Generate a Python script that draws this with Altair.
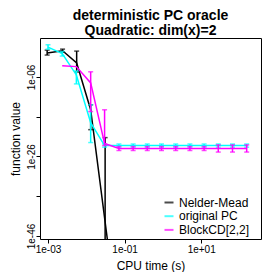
import altair as alt
import pandas as pd

SERIES = ["Nelder-Mead", "original PC", "BlockCD[2,2]"]
COLORS = ["#000000", "#00FFFF", "#FF00FF"]

# Nelder-Mead (black)
nm_time = [9.5e-4, 2.4e-3, 5.6e-3, 1.3e-2, 5.0e-2]
nm_value = [1.0e0, 4.0e0, 3.2e-3, 5.6e-15, 1.0e-58]
nm_err_time = [9.5e-4, 2.4e-3, 5.6e-3, 1.3e-2, 3.1e-2]
nm_err_lo = [3.2e-1, 1.8e0, 1.8e-5, 5.6e-20, 1.0e-60]
nm_err_hi = [5.6e0, 1.0e1, 3.2e0, 1.0e-13, 5.6e-22]

# original PC (cyan)
pc_time = [1.0e-3, 2.35e-3, 5.5e-3, 1.3e-2, 3.0e-2, 7.1e-2, 1.67e-1, 3.9e-1,
           9.2e-1, 2.16, 5.07, 11.9, 27.9, 65.6, 154.0]
pc_value = [32.0, 0.79, 3.2e-6, 3.2e-18, 5.6e-24, 5.6e-24, 5.6e-24, 5.6e-24,
            5.6e-24, 5.6e-24, 5.6e-24, 5.6e-24, 5.6e-24, 5.6e-24, 5.6e-24]
pc_err_lo = [10.0, 0.18, 1.8e-8, 3.2e-23, 2.2e-24, 2.2e-24, 2.2e-24, 2.2e-24,
             2.2e-24, 2.2e-24, 2.2e-24, 2.2e-24, 2.2e-24, 2.2e-24, 2.2e-24]
pc_err_hi = [126.0, 2.5, 3.2e-5, 1.0e-13, 1.4e-23, 1.4e-23, 1.4e-23, 1.4e-23,
             1.4e-23, 1.4e-23, 1.4e-23, 1.4e-23, 1.4e-23, 1.4e-23, 1.4e-23]

# BlockCD[2,2] (magenta)
bcd_time = [2.35e-3, 5.5e-3, 1.3e-2, 3.0e-2, 7.1e-2, 1.67e-1, 3.9e-1,
            9.2e-1, 2.16, 5.07, 11.9, 27.9, 65.6, 154.0]
bcd_value = [6.3e-4, 4.0e-4, 3.2e-8, 1.8e-23, 1.0e-24, 1.0e-24, 1.0e-24,
             1.0e-24, 1.0e-24, 1.0e-24, 1.0e-24, 1.0e-24, 1.0e-24, 1.0e-24]
bcd_err_time = [1.3e-2, 3.0e-2, 7.1e-2, 1.67e-1, 3.9e-1, 9.2e-1, 2.16, 5.07,
                11.9, 27.9, 65.6, 154.0]
bcd_err_lo = [2.0e-15, 5.6e-24, 3.2e-25, 3.2e-25, 3.2e-25, 3.2e-25, 3.2e-25,
              3.2e-25, 3.2e-25, 1.3e-25, 1.3e-25, 1.3e-25]
bcd_err_hi = [2.0e-5, 5.6e-15, 3.2e-24, 3.2e-24, 3.2e-24, 3.2e-24, 3.2e-24,
              3.2e-24, 3.2e-24, 8.0e-24, 8.0e-24, 8.0e-24]

x_ticks = [1e-3, 1e-1, 1e1]
y_ticks = [1e-46, 1e-36, 1e-26, 1e-16, 1e-6]
y_labelled = [-6, -26, -46]

FONT = "Liberation Sans"

xscale = alt.Scale(type="log", domain=[6.18e-4, 364.0], nice=False)
yscale = alt.Scale(type="log", domain=[1.78e-47, 6.3e3], nice=False)
cscale = alt.Scale(domain=SERIES, range=COLORS)

exp_expr = "round(log(datum.value)/LN10)"
fmt_expr = ("'1e' + (datum.value < 1 ? '-' : '+') + pad(toString(abs(" + exp_expr
            + ")), 2, '0', 'left')")

xaxis = alt.Axis(values=x_ticks, labelExpr=fmt_expr, title="CPU time (s)",
                 grid=False, domain=False, tickSize=4, tickColor="black",
                 labelPadding=1, labelFontSize=10, labelColor="black",
                 labelFont=FONT, titleFont=FONT, titleFontSize=12,
                 titleFontWeight="normal", titleColor="black",
                 titleY=26, titleBaseline="middle", labelFlush=False,
                 labelOverlap=False)
yaxis = alt.Axis(values=y_ticks,
                 labelExpr="indexof(" + str(y_labelled) + ", " + exp_expr + ") >= 0 ? "
                 + fmt_expr + " : ''",
                 title="function value", grid=False, domain=False, tickSize=4,
                 tickColor="black", labelPadding=0, labelFontSize=10,
                 labelColor="black", labelFont=FONT, labelAngle=270,
                 labelAlign="center", labelBaseline="bottom", titleFont=FONT,
                 titleFontSize=12, titleFontWeight="normal", titleColor="black",
                 titleX=-25, titleY=100.5, titleAngle=270, titleAlign="center",
                 titleBaseline="middle", labelFlush=False, labelOverlap=False)

legend = alt.Legend(title=None, orient="none", legendX=123, legendY=158.5,
                    symbolType="stroke", symbolSize=81, symbolStrokeWidth=2,
                    labelFontSize=12, labelFont=FONT, labelColor="black",
                    rowPadding=1.7, labelOffset=4, padding=0)


def make_layers(name, t, v, et, lo, hi):
    df = pd.DataFrame({"time": t, "value": v, "series": name})
    de = pd.DataFrame({"time": et, "lo": lo, "hi": hi, "series": name})
    X = alt.X("time:Q", scale=xscale, axis=xaxis)
    color = alt.Color("series:N", scale=cscale, legend=legend)
    line = alt.Chart(df).mark_line(strokeWidth=1.5, clip=True).encode(
        x=X, y=alt.Y("value:Q", scale=yscale, axis=yaxis), color=color,
    )
    bar = alt.Chart(de).mark_rule(strokeWidth=1.5, clip=True).encode(
        x=X, y=alt.Y("lo:Q", scale=yscale, axis=yaxis), y2="hi:Q", color=color,
    )
    cap_lo = alt.Chart(de).mark_tick(orient="horizontal", size=5, thickness=1.5,
                                     clip=True).encode(
        x=X, y=alt.Y("lo:Q", scale=yscale, axis=yaxis), color=color,
    )
    cap_hi = alt.Chart(de).mark_tick(orient="horizontal", size=5, thickness=1.5,
                                     clip=True).encode(
        x=X, y=alt.Y("hi:Q", scale=yscale, axis=yaxis), color=color,
    )
    return [line, bar, cap_lo, cap_hi]


layers = []
layers += make_layers(SERIES[0], nm_time, nm_value, nm_err_time, nm_err_lo, nm_err_hi)
layers += make_layers(SERIES[1], pc_time, pc_value, pc_time, pc_err_lo, pc_err_hi)
layers += make_layers(SERIES[2], bcd_time, bcd_value, bcd_err_time, bcd_err_lo, bcd_err_hi)

chart = alt.layer(*layers).properties(
    width=221,
    height=201,
    autosize=alt.AutoSizeParams(type="none"),
    padding={"left": 32, "top": 30, "right": 11, "bottom": 33},
    title=alt.TitleParams(["deterministic PC oracle", "Quadratic: dim(x)=2"],
                          fontSize=14, fontWeight="bold", font=FONT,
                          lineHeight=15, offset=0, anchor="middle",
                          color="black"),
).configure_view(stroke="black", strokeWidth=1)

chart.save("out.html", embed_options={"renderer": "svg", "actions": False})
